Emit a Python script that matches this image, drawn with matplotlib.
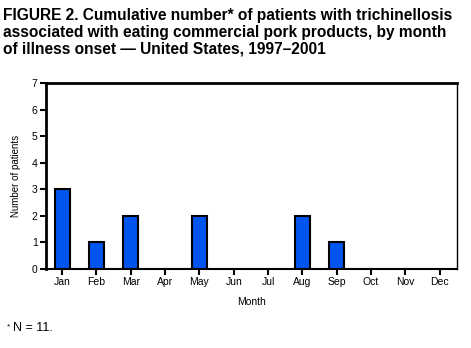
import matplotlib
matplotlib.use("Agg")
import matplotlib.pyplot as plt

plt.rcParams['font.family'] = ['Liberation Sans', 'DejaVu Sans']

# monthly counts of patients, 1997-2001
months = ["Jan", "Feb", "Mar", "Apr", "May", "Jun",
          "Jul", "Aug", "Sep", "Oct", "Nov", "Dec"]
patients = [3, 1, 2, 0, 2, 0, 0, 2, 1, 0, 0, 0]
y_ticks = [0, 1, 2, 3, 4, 5, 6, 7]

fig = plt.figure(figsize=(4.71, 3.48), dpi=100)
ax = fig.add_axes([0.0977, 0.227, 0.872, 0.534])

x = range(len(months))
shown = [i for i, v in enumerate(patients) if v > 0]
ax.bar(shown, [patients[i] for i in shown], width=0.43,
       color="#0055ee", edgecolor="black", linewidth=1.5, zorder=3)

ax.set_xlim(-0.47, 11.5)
ax.set_ylim(0, 7)
ax.set_xticks(list(x))
ax.set_xticklabels(months, fontsize=7.5)
ax.set_yticks(y_ticks)
ax.set_yticklabels([str(t) for t in y_ticks], fontsize=7.5)
ax.tick_params(axis="both", direction="out", length=4, width=1.5, pad=2)

ax.spines["left"].set_linewidth(2)
ax.spines["top"].set_linewidth(2)
ax.spines["right"].set_linewidth(1)
ax.spines["bottom"].set_linewidth(1.5)

ax.set_ylabel("Number of patients", fontsize=7, labelpad=8)
ax.set_xlabel("Month", fontsize=7.5, labelpad=7)

fig.text(0.006, 0.978,
         "FIGURE 2. Cumulative number* of patients with trichinellosis\n"
         "associated with eating commercial pork products, by month\n"
         "of illness onset \u2014 United States, 1997\u20132001",
         fontsize=11.2, fontweight="bold", va="top", ha="left", linespacing=1.17)

fig.text(0.015, 0.052, "*", fontsize=6, va="bottom")
fig.text(0.028, 0.04, "N = 11.", fontsize=9, va="bottom")

fig.savefig("out.png", dpi=100)
